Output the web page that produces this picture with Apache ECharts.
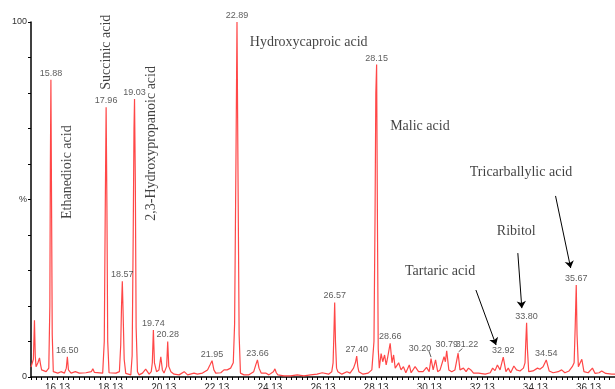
<!DOCTYPE html>
<html>
<head>
<meta charset="utf-8">
<script src="https://cdn.jsdelivr.net/npm/echarts@6/dist/echarts.min.js"></script>
<style>
  html, body { margin: 0; padding: 0; background: #fff; }
  #chart { width: 615px; height: 389px; }
</style>
</head>
<body>
<div id="chart"></div>
<script>
// retention time (min) and relative intensity (%) of the trace
var retentionTimes = [
  15.13, 15.19, 15.22, 15.26, 15.29, 15.32, 15.39, 15.45, 15.49, 15.53, 15.70, 15.80, 15.84, 15.86, 15.88, 15.90, 15.93, 15.97,
  16.14, 16.26, 16.39, 16.46, 16.50, 16.54, 16.64, 16.80, 16.95, 17.20, 17.40, 17.46, 17.52, 17.58, 17.83,
  17.89, 17.93, 17.96, 17.99, 18.02, 18.07, 18.33, 18.46, 18.51, 18.54, 18.57, 18.60, 18.64, 18.70, 18.89,
  18.94, 18.98, 19.01, 19.03, 19.06, 19.09, 19.14, 19.20, 19.33, 19.45, 19.58, 19.66, 19.70, 19.74, 19.78,
  19.86, 19.95, 20.02, 20.08, 20.14, 20.24, 20.28, 20.32, 20.40, 20.52, 20.71, 20.90, 21.03, 21.27, 21.40,
  21.59, 21.78, 21.88, 21.95, 22.02, 22.09, 22.28, 22.40, 22.52, 22.65, 22.75, 22.80, 22.85, 22.89, 22.93,
  22.97, 23.02, 23.15, 23.34, 23.52, 23.60, 23.66, 23.72, 23.80, 23.97, 24.09, 24.26, 24.32, 24.37, 24.43,
  24.66, 24.91, 25.16, 25.41, 25.66, 25.91, 26.10, 26.34, 26.46, 26.51, 26.54, 26.57, 26.60, 26.64, 26.69,
  26.84, 27.03, 27.15, 27.28, 27.35, 27.40, 27.44, 27.48, 27.64, 27.83, 27.97, 28.05, 28.09, 28.12, 28.15,
  28.18, 28.21, 28.25, 28.32, 28.38, 28.45, 28.51, 28.57, 28.66, 28.73, 28.79, 28.85, 28.98, 29.07, 29.16,
  29.25, 29.38, 29.45, 29.60, 29.73, 29.78, 29.90, 30.03, 30.13, 30.20, 30.28, 30.37, 30.45, 30.54, 30.61,
  30.69, 30.74, 30.79, 30.87, 30.98, 31.10, 31.22, 31.29, 31.42, 31.52, 31.61, 31.70, 31.80, 31.99, 32.24,
  32.43, 32.52, 32.61, 32.70, 32.80, 32.92, 33.02, 33.11, 33.20, 33.32, 33.42, 33.55, 33.68, 33.74, 33.77,
  33.80, 33.83, 33.88, 34.04, 34.21, 34.30, 34.42, 34.54, 34.65, 34.80, 34.99, 35.12, 35.24, 35.40, 35.52,
  35.59, 35.63, 35.67, 35.70, 35.75, 35.88, 35.96, 36.12, 36.28, 36.38, 36.53, 36.63, 36.78, 37.01, 37.13
];
var intensities = [
  2.8, 2.5, 5, 16, 6, 2.9, 4.0, 5.4, 3.5, 2.0, 1.5, 2.5, 20, 60, 83.7, 55, 12, 1.5,
  1.1, 1.5, 1.1, 2.5, 5.7, 2.0, 1.1, 1.5, 1.1, 1.2, 1.5, 2.3, 1.3, 1.1, 1.1,
  10, 50, 76, 48, 10, 1.2, 1.1, 1.5, 9, 20, 27, 18, 5, 1.0, 0.6,
  6, 40, 70, 78.3, 55, 14, 1.5, 0.6, 1.1, 2.2, 0.8, 1.5, 4, 13.2, 4,
  1.5, 2.0, 5.7, 2.0, 1.1, 3, 10, 3, 1.5, 0.8, 0.6, 1.5, 0.6, 1.1, 0.8,
  1.1, 2.0, 3.5, 4.6, 2.0, 1.1, 1.2, 2.0, 2.0, 2.5, 4, 15, 60, 100, 55,
  12, 1.1, 0.6, 0.6, 1.5, 3.5, 4.8, 2.5, 1.1, 1.1, 0.6, 1.5, 2.3, 1.2, 0.6,
  0.3, 0.3, 0.6, 0.3, 0.6, 0.8, 1.2, 0.8, 1.5, 4, 12, 21, 10, 2.5, 1.5,
  0.8, 1.5, 1.1, 2.5, 4, 5.9, 3, 1.5, 0.8, 1.1, 2.0, 10, 45, 80, 88,
  45, 8, 2.5, 6.6, 4.3, 6.2, 3.4, 5.7, 9.5, 4.0, 6.2, 2.5, 4.0, 2.0, 2.9,
  1.2, 3.4, 1.2, 2.9, 1.5, 2.0, 1.5, 2.7, 1.5, 5.2, 2.0, 4.8, 1.5, 2.0, 1.5,
  5.7, 4.3, 7.4, 2.0, 1.5, 2.0, 6.7, 2.0, 2.5, 1.5, 2.5, 2.0, 1.1, 1.1, 0.8,
  1.2, 2.5, 1.8, 3.4, 2.0, 5.6, 1.5, 2.5, 1.2, 3.1, 2.0, 1.7, 2.5, 4, 10,
  15.3, 8, 1.5, 1.7, 2.5, 2.2, 2.9, 4.8, 1.7, 1.2, 1.5, 2.0, 1.2, 1.7, 2.9,
  4, 14, 25.9, 12, 2.9, 5.0, 1.5, 1.2, 2.5, 1.0, 1.2, 1.7, 1.0, 0.8, 0.8
];

// labelled peaks
var peakTimes = [15.88, 16.50, 17.96, 18.57, 19.03, 19.74, 20.28, 21.95, 22.89, 23.66, 26.57,
                 27.40, 28.15, 28.66, 30.20, 30.79, 31.22, 32.92, 33.80, 34.54, 35.67];
var peakHeights = [83.7, 5.7, 76, 27, 78.3, 13.2, 10, 4.6, 100, 4.8, 21,
                   5.9, 88, 9.5, 5.2, 7.4, 6.7, 5.6, 15.3, 4.8, 25.9];

// leader lines for the two labels set aside: [fromTime, fromLevel, toTime, toLevel]
var leaderLines = [
  [30.12, 7.3, 30.20, 5.6],
  [31.24, 7.1, 31.38, 8.0]
];

// compound names: anchor time, anchor %, vertical or not
var compoundNames = ['Ethanedioic acid', 'Succinic acid', '2,3-Hydroxypropanoic acid', 'Hydroxycaproic acid',
                     'Malic acid', 'Tricarballylic acid', 'Ribitol', 'Tartaric acid'];
var compoundTimes = [16.48, 17.98, 19.68, 25.59, 29.78, 33.59, 33.41, 30.54];
var compoundLevels = [57.7, 91.5, 65.8, 94.4, 70.7, 57.7, 41.1, 29.9];
var compoundVertical = [true, true, true, false, false, false, false, false];

// arrows: [fromTime, fromLevel, toTime, toLevel]
var arrows = [
  [34.89, 51.0, 35.46, 30.7],
  [33.47, 34.9, 33.62, 19.4],
  [31.89, 24.5, 32.65, 9.0]
];

var xTickLabels = ['16.13', '18.13', '20.13', '22.13', '24.13', '26.13', '28.13', '30.13', '32.13', '34.13', '36.13'];

// labels moved off their peaks (px)
var labelShift = { '30.20': [-11, -4], '31.22': [9, -2] };

var trace = retentionTimes.map(function (t, i) { return [t, intensities[i]]; });
var peaks = peakTimes.map(function (t, i) {
  var name = t.toFixed(2);
  var item = { value: [t, peakHeights[i]], name: name };
  if (labelShift[name]) item.label = { offset: labelShift[name] };
  return item;
});
var names = compoundNames.map(function (n, i) {
  return { value: [compoundTimes[i], compoundLevels[i]], name: n, label: { rotate: compoundVertical[i] ? 90 : 0 } };
});

var minorTicks = [];
for (var k = 0; k <= 110; k++) minorTicks.push(+(15.13 + k * 0.2).toFixed(2));

var chart = echarts.init(document.getElementById('chart'), null, { renderer: 'canvas' });
chart.setOption({
  animation: false,
  grid: { left: 31, right: 0, top: 22, bottom: 12, outerBoundsMode: 'none', containLabel: false },
  xAxis: {
    type: 'value',
    min: 15.13,
    max: 37.13,
    axisLine: { lineStyle: { color: '#000', width: 1.5 } },
    axisTick: { customValues: minorTicks, length: 3, lineStyle: { color: '#000' } },
    axisLabel: {
      customValues: xTickLabels.map(Number),
      formatter: function (v) { return v.toFixed(2); },
      color: '#333', fontSize: 10, margin: 6, fontFamily: 'Liberation Sans'
    },
    splitLine: { show: false }
  },
  yAxis: {
    type: 'value',
    min: 0,
    max: 100,
    interval: 10,
    axisLine: { show: true, lineStyle: { color: '#000', width: 1.5 } },
    axisTick: { show: true, length: 3, lineStyle: { color: '#000' } },
    axisLabel: {
      formatter: function (v) { return v === 0 ? '0' : v === 100 ? '100' : v === 50 ? '%' : ''; },
      color: '#333', fontSize: 9, margin: 4, fontFamily: 'Liberation Sans'
    },
    splitLine: { show: false }
  },
  series: [
    {
      type: 'line',
      data: trace,
      showSymbol: false,
      lineStyle: { color: '#ff4747', width: 1.2 },
      z: 2
    },
    {
      type: 'scatter',
      data: peaks,
      symbolSize: 0,
      silent: true,
      label: {
        show: true, position: 'top', distance: 2,
        formatter: '{b}', color: '#333', fontSize: 9, fontFamily: 'Liberation Sans'
      },
      markLine: {
        silent: true,
        symbol: 'none',
        label: { show: false },
        lineStyle: { color: '#333', width: 0.8, type: 'solid' },
        data: leaderLines.map(function (a) { return [{ coord: [a[0], a[1]] }, { coord: [a[2], a[3]] }]; })
      },
      z: 3
    },
    {
      type: 'scatter',
      data: names,
      symbolSize: 0,
      silent: true,
      label: {
        show: true, position: 'inside', formatter: '{b}',
        color: '#111', fontSize: 14, fontFamily: 'Liberation Serif'
      },
      markLine: {
        silent: true,
        symbol: ['none', 'arrow'],
        symbolSize: 7,
        label: { show: false },
        lineStyle: { color: '#000', width: 1, type: 'solid' },
        data: arrows.map(function (a) { return [{ coord: [a[0], a[1]] }, { coord: [a[2], a[3]] }]; })
      },
      z: 4
    }
  ]
});
</script>
</body>
</html>
